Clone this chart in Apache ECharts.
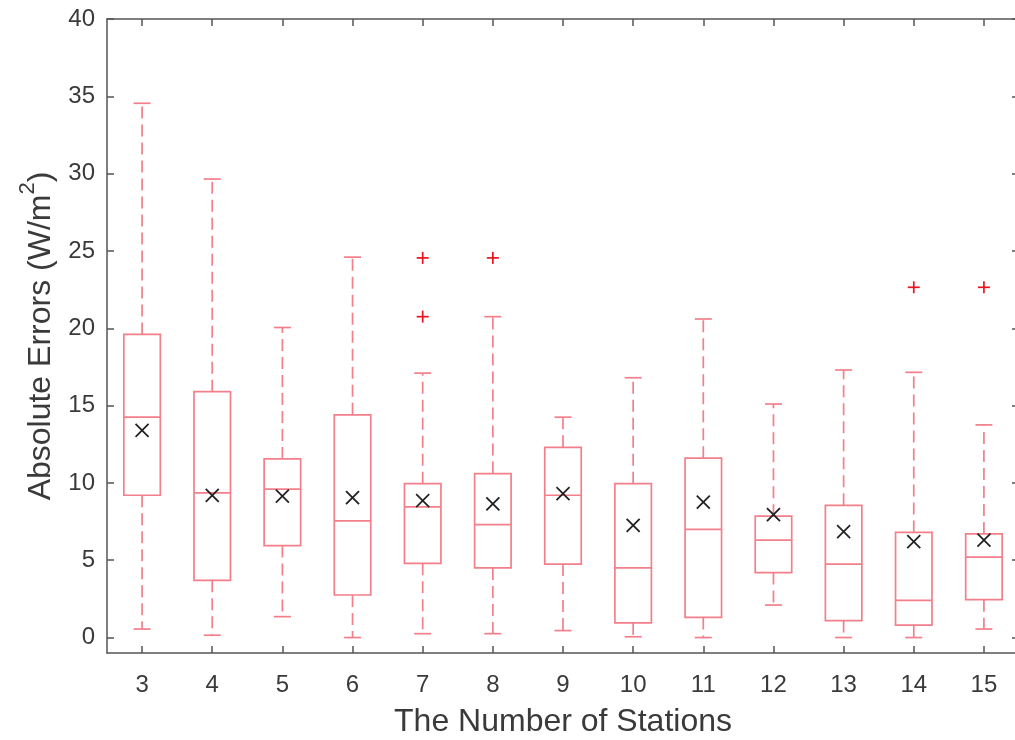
<!DOCTYPE html>
<html>
<head>
<meta charset="utf-8">
<script src="https://cdn.jsdelivr.net/npm/echarts@6/dist/echarts.min.js"></script>
<style>html,body{margin:0;padding:0;background:#fff;}#c{width:1015px;height:740px;}</style>
</head>
<body>
<div id="c"></div>
<script>
var categories = ['3','4','5','6','7','8','9','10','11','12','13','14','15'];
// box statistics per category
var whiskerLow = [0.55, 0.15, 1.35, 0.0, 0.25, 0.25, 0.45, 0.05, 0.0, 2.1, 0.0, 0.0, 0.55];
var q1Values   = [9.2, 3.7, 5.95, 2.75, 4.8, 4.5, 4.75, 0.95, 1.3, 4.2, 1.1, 0.8, 2.45];
var medians    = [14.25, 9.35, 9.6, 7.55, 8.45, 7.3, 9.2, 4.5, 7.0, 6.3, 4.75, 2.4, 5.2];
var q3Values   = [19.6, 15.9, 11.55, 14.4, 9.95, 10.6, 12.3, 9.95, 11.6, 7.85, 8.55, 6.8, 6.7];
var whiskerHigh= [34.55, 29.65, 20.05, 24.6, 17.1, 20.75, 14.25, 16.8, 20.6, 15.1, 17.3, 17.15, 13.75];
var means      = [13.4, 9.2, 9.15, 9.05, 8.85, 8.65, 9.3, 7.25, 8.75, 7.95, 6.85, 6.2, 6.3];
var outlierCats = ['7','7','8','14','15'];
var outlierVals = [24.55, 20.75, 24.55, 22.65, 22.65];
var yTicks = [0, 5, 10, 15, 20, 25, 30, 35, 40];

var boxData = categories.map(function (c, i) {
  return [i, whiskerLow[i], q1Values[i], medians[i], q3Values[i], whiskerHigh[i]];
});
var meanData = categories.map(function (c, i) { return [i, means[i]]; });
var outlierData = outlierCats.map(function (c, i) { return [categories.indexOf(c), outlierVals[i]]; });

var boxColor = '#f37f8a';
var axisColor = '#555';
var textColor = '#3a3a3a';

var chart = echarts.init(document.getElementById('c'), null, {renderer: 'canvas'});

function renderBox(params, api) {
  var x = api.value(0);
  var pLow = api.coord([x, api.value(1)]);
  var pQ1 = api.coord([x, api.value(2)]);
  var pMed = api.coord([x, api.value(3)]);
  var pQ3 = api.coord([x, api.value(4)]);
  var pHigh = api.coord([x, api.value(5)]);
  var band = api.size([1, 0])[0];
  var bw = band * 0.52;
  var cw = 17;
  var cx = pQ1[0];
  var solid = {stroke: boxColor, lineWidth: 1.7, fill: null};
  var dashed = {stroke: boxColor, lineWidth: 1.7, lineDash: [12, 6]};
  return {
    type: 'group',
    children: [
      {type: 'rect', shape: {x: cx - bw / 2, y: pQ3[1], width: bw, height: pQ1[1] - pQ3[1]}, style: {stroke: boxColor, lineWidth: 1.7, fill: 'none'}},
      {type: 'line', shape: {x1: cx - bw / 2, y1: pMed[1], x2: cx + bw / 2, y2: pMed[1]}, style: solid},
      {type: 'line', shape: {x1: cx, y1: pQ3[1], x2: cx, y2: pHigh[1]}, style: dashed},
      {type: 'line', shape: {x1: cx, y1: pQ1[1], x2: cx, y2: pLow[1]}, style: dashed},
      {type: 'line', shape: {x1: cx - cw / 2, y1: pHigh[1], x2: cx + cw / 2, y2: pHigh[1]}, style: solid},
      {type: 'line', shape: {x1: cx - cw / 2, y1: pLow[1], x2: cx + cw / 2, y2: pLow[1]}, style: solid}
    ]
  };
}

function renderCross(params, api) {
  var p = api.coord([api.value(0), api.value(1)]);
  var s = 6.5;
  var st = {stroke: '#222', lineWidth: 1.8};
  return {type: 'group', children: [
    {type: 'line', shape: {x1: p[0] - s, y1: p[1] - s, x2: p[0] + s, y2: p[1] + s}, style: st},
    {type: 'line', shape: {x1: p[0] - s, y1: p[1] + s, x2: p[0] + s, y2: p[1] - s}, style: st}
  ]};
}

function renderPlus(params, api) {
  var p = api.coord([api.value(0), api.value(1)]);
  var s = 6;
  var st = {stroke: '#e8141e', lineWidth: 1.7};
  return {type: 'group', children: [
    {type: 'line', shape: {x1: p[0] - s, y1: p[1], x2: p[0] + s, y2: p[1]}, style: st},
    {type: 'line', shape: {x1: p[0], y1: p[1] - s, x2: p[0], y2: p[1] + s}, style: st}
  ]};
}

var tick = {show: true, inside: true, length: 7, alignWithLabel: true, lineStyle: {color: axisColor, width: 1.5}};
var lineStyle = {show: true, onZero: false, lineStyle: {color: axisColor, width: 1.5}};

chart.setOption({
  animation: false,
  backgroundColor: '#fff',
  grid: {left: 107, top: 19, width: 912, height: 634, containLabel: false, outerBoundsMode: 'none'},
  xAxis: [{
    type: 'category',
    data: categories,
    position: 'bottom',
    axisLine: lineStyle,
    axisTick: tick,
    axisLabel: {color: textColor, fontSize: 24, fontFamily: 'Liberation Sans', margin: 20},
    splitLine: {show: false},
    name: 'The Number of Stations',
    nameLocation: 'middle',
    nameGap: 53,
    nameTextStyle: {color: textColor, fontSize: 32, fontFamily: 'Liberation Sans'}
  }, {
    type: 'category',
    data: categories,
    position: 'top',
    axisLine: lineStyle,
    axisTick: tick,
    axisLabel: {show: false},
    splitLine: {show: false}
  }],
  yAxis: [{
    type: 'value',
    min: -1,
    max: 40,
    position: 'left',
    axisLine: lineStyle,
    axisTick: {show: true, inside: true, length: 7, customValues: yTicks, lineStyle: {color: axisColor, width: 1.5}},
    axisLabel: {color: textColor, fontSize: 24, fontFamily: 'Liberation Sans', margin: 12, customValues: yTicks},
    splitLine: {show: false},
    name: '{n|Absolute Errors (W/m}{s|2}{n|)}',
    nameLocation: 'middle',
    nameGap: 50,
    nameRotate: 90,
    nameTextStyle: {
      color: textColor, fontSize: 32, fontFamily: 'Liberation Sans',
      rich: {
        n: {color: textColor, fontSize: 32, fontFamily: 'Liberation Sans', lineHeight: 40, verticalAlign: 'bottom'},
        s: {color: textColor, fontSize: 22, fontFamily: 'Liberation Sans', lineHeight: 40, verticalAlign: 'top'}
      }
    }
  }, {
    type: 'value',
    min: -1,
    max: 40,
    position: 'right',
    axisLine: {show: false},
    axisTick: {show: true, inside: true, length: 7, customValues: yTicks, lineStyle: {color: axisColor, width: 1.5}},
    axisLabel: {show: false},
    splitLine: {show: false}
  }],
  series: [{
    type: 'custom',
    renderItem: renderBox,
    data: boxData,
    encode: {x: 0, y: [1, 2, 3, 4, 5]},
    clip: false
  }, {
    type: 'custom',
    renderItem: renderCross,
    data: meanData,
    encode: {x: 0, y: 1}
  }, {
    type: 'custom',
    renderItem: renderPlus,
    data: outlierData,
    encode: {x: 0, y: 1}
  }]
});
</script>
</body>
</html>
